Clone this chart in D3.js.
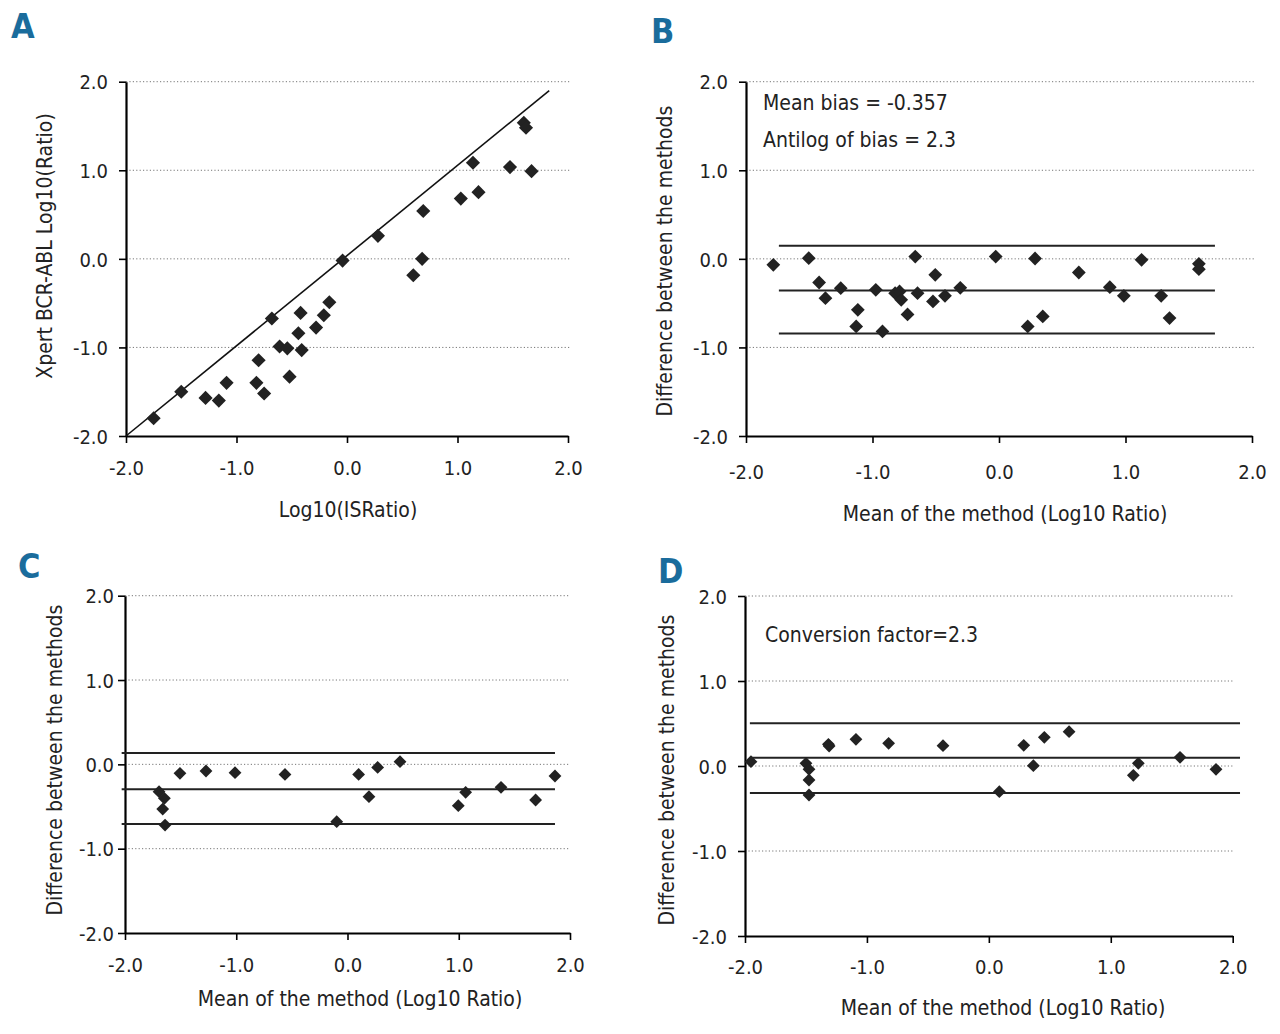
<!DOCTYPE html>
<html>
  <head>
    <meta charset="UTF-8" />
    <title>Xpert BCR-ABL vs IS ratio</title>
    <script src="https://d3js.org/d3.v7.min.js"></script>
    <style>
      body { margin: 0; background: #fff; }
      svg text { font-family: "Liberation Sans Narrow", "DejaVu Sans Condensed", "Roboto Condensed", sans-serif; fill: #222; }
    </style>
  </head>
  <body>
    <div id="chart"></div>
    <script>
      ///////////////////////data///////////////////////////////

      const ticks = [-2, -1, 0, 1, 2];
      const gridValues = [-1, 0, 1, 2];

      // A: [Log10(IS ratio), Xpert Log10(ratio)]
      const aPoints = [
        [-1.75, -1.8], [-1.5, -1.5], [-1.28, -1.57], [-1.16, -1.6], [-1.09, -1.4],
        [-0.82, -1.4], [-0.75, -1.52], [-0.8, -1.145], [-0.68, -0.674], [-0.61, -0.99],
        [-0.54, -1.01], [-0.52, -1.33], [-0.42, -0.61], [-0.44, -0.84], [-0.41, -1.03],
        [-0.28, -0.776], [-0.21, -0.637], [-0.16, -0.49], [-0.04, -0.02], [0.28, 0.26],
        [0.6, -0.185], [0.68, 0.0], [0.69, 0.54], [1.03, 0.68], [1.14, 1.085],
        [1.19, 0.753], [1.475, 1.036], [1.6, 1.537], [1.62, 1.48], [1.67, 0.99],
      ];
      const aIdentity = [[-2, -2], [1.83, 1.9]];

      // B: [mean, difference]
      const bPoints = [
        [-1.784, -0.068], [-1.504, 0.008], [-1.422, -0.267], [-1.372, -0.444], [-1.251, -0.331],
        [-1.116, -0.575], [-1.129, -0.763], [-0.974, -0.35], [-0.921, -0.82], [-0.821, -0.387],
        [-0.786, -0.368], [-0.773, -0.462], [-0.723, -0.628], [-0.662, 0.026], [-0.644, -0.387],
        [-0.522, -0.481], [-0.504, -0.18], [-0.427, -0.417], [-0.306, -0.327], [-0.026, 0.026],
        [0.227, -0.763], [0.285, 0.004], [0.346, -0.65], [0.631, -0.154], [0.876, -0.32],
        [0.987, -0.417], [1.127, -0.011], [1.282, -0.417], [1.348, -0.669], [1.58, -0.056],
        [1.58, -0.117],
      ];
      const bLimits = [0.147, -0.357, -0.842];
      const bLimitSpan = [-1.74, 1.707];

      const cPoints = [
        [-1.694, -0.324], [-1.646, -0.403], [-1.661, -0.53], [-1.64, -0.72], [-1.506, -0.107],
        [-1.272, -0.079], [-1.011, -0.099], [-0.562, -0.119], [-0.097, -0.68], [0.1, -0.119],
        [0.193, -0.383], [0.271, -0.036], [0.472, 0.032], [0.996, -0.49], [1.062, -0.332],
        [1.38, -0.273], [1.691, -0.423], [1.865, -0.138],
      ];
      const cLimits = [0.134, -0.296, -0.708];
      const cLimitSpan = [-2.03, 1.865];

      const dPoints = [
        [-1.951, 0.051], [-1.5, 0.031], [-1.475, -0.039], [-1.475, -0.165], [-1.475, -0.341],
        [-1.316, 0.255], [-1.31, 0.235], [-1.09, 0.314], [-0.822, 0.267], [-0.376, 0.239],
        [0.086, -0.302], [0.286, 0.243], [0.365, 0.004], [0.455, 0.337], [0.658, 0.404],
        [1.185, -0.11], [1.226, 0.031], [1.568, 0.102], [1.863, -0.039],
      ];
      const dLimits = [0.502, 0.098, -0.318];
      const dLimitSpan = [-1.96, 2.06];

      ///////////////////////chart///////////////////////////////

      const svg = d3.select("#chart").append("svg")
        .attr("width", 1280).attr("height", 1034);

      // plain hyphen for negatives, like the original figure
      const fmt = (d) => d.toFixed(1);

      function panel(o) {
        const x = d3.scaleLinear().domain([-2, 2]).range([o.left, o.right]);
        const y = d3.scaleLinear().domain([-2, 2]).range([o.bottom, o.top]);
        const g = svg.append("g");

        // dotted grid
        g.selectAll(".grid").data(gridValues).enter().append("line")
          .attr("x1", o.left).attr("x2", o.gridRight)
          .attr("y1", (d) => y(d)).attr("y2", (d) => y(d))
          .attr("stroke", "#777").attr("stroke-width", 1)
          .attr("stroke-dasharray", "1.2,2.2");

        // axes
        const ax = g.append("g").attr("transform", `translate(0,${o.bottom})`)
          .call(d3.axisBottom(x).tickValues(ticks).tickFormat(fmt).tickSize(7).tickSizeOuter(0));
        ax.select(".domain").attr("stroke-width", 2.2);
        ax.selectAll(".tick line").attr("stroke-width", 1.6);
        ax.selectAll(".tick text").attr("dy", 0).attr("y", o.xLabelDy)
          .style("font-size", "20px");

        const ay = g.append("g").attr("transform", `translate(${o.left},0)`)
          .call(d3.axisLeft(y).tickValues(ticks).tickFormat(fmt).tickSize(7).tickSizeOuter(0));
        ay.select(".domain").attr("stroke-width", 2.2);
        ay.selectAll(".tick line").attr("stroke-width", 1.6);
        ay.selectAll(".tick text").attr("x", -o.yLabelGap).attr("dy", "0.36em")
          .style("font-size", "20px");

        // reference lines
        if (o.identity) {
          g.append("path")
            .attr("d", d3.line().x((d) => x(d[0])).y((d) => y(d[1]))(o.identity))
            .attr("stroke", "#111").attr("stroke-width", 1.6).attr("fill", "none");
        }
        if (o.limits) {
          g.selectAll(".limit").data(o.limits).enter().append("line")
            .attr("x1", x(o.span[0])).attr("x2", x(o.span[1]))
            .attr("y1", (d) => y(d)).attr("y2", (d) => y(d))
            .attr("stroke", "#222").attr("stroke-width", 2);
        }

        // diamonds
        const sym = d3.symbol(d3.symbolSquare, o.markSize);
        g.selectAll(".pt").data(o.points).enter().append("path")
          .attr("d", sym)
          .attr("transform", (d) => `translate(${x(d[0])},${y(d[1])}) rotate(45)`)
          .attr("fill", "#222");

        // titles
        g.append("text").attr("x", o.xTitle[0]).attr("y", o.xTitle[1])
          .attr("text-anchor", "middle").style("font-size", "21px").text(o.xLabel);
        g.append("text")
          .attr("transform", `translate(${o.yTitle[0]},${o.yTitle[1]}) rotate(-90)`)
          .attr("text-anchor", "middle").attr("dy", "0.35em")
          .style("font-size", "21px").text(o.yLabel);

        (o.notes || []).forEach((n) => {
          g.append("text").attr("x", n[0]).attr("y", n[1])
            .style("font-size", "21px").text(n[2]);
        });

        g.append("text").attr("x", o.letter[0]).attr("y", o.letter[1])
          .style("font-size", "34px").style("font-weight", "bold")
          .style("fill", "#1a6c9c").text(o.letter[2]);
      }

      panel({
        left: 126, right: 568, top: 81.7, bottom: 436, gridRight: 570,
        xLabelDy: 39, yLabelGap: 18,
        points: aPoints, identity: aIdentity, markSize: 100,
        xLabel: "Log10(ISRatio)", xTitle: [348, 517],
        yLabel: "Xpert BCR-ABL Log10(Ratio)", yTitle: [45, 246],
        letter: [11, 38, "A"],
      });

      panel({
        left: 746, right: 1252, top: 81.7, bottom: 436, gridRight: 1256,
        xLabelDy: 43, yLabelGap: 18,
        points: bPoints, limits: bLimits, span: bLimitSpan, markSize: 95,
        xLabel: "Mean of the method (Log10 Ratio)", xTitle: [1005, 521],
        yLabel: "Difference between the methods", yTitle: [665, 261],
        notes: [[763, 110, "Mean bias = -0.357"], [763, 147, "Antilog of bias = 2.3"]],
        letter: [651, 43, "B"],
      });

      panel({
        left: 125, right: 570, top: 595.7, bottom: 933, gridRight: 570,
        xLabelDy: 39, yLabelGap: 11,
        points: cPoints, limits: cLimits, span: cLimitSpan, markSize: 82,
        xLabel: "Mean of the method (Log10 Ratio)", xTitle: [360, 1006],
        yLabel: "Difference between the methods", yTitle: [55, 760],
        letter: [18, 578, "C"],
      });

      panel({
        left: 745, right: 1232.7, top: 596, bottom: 936, gridRight: 1233,
        xLabelDy: 38, yLabelGap: 18,
        points: dPoints, limits: dLimits, span: dLimitSpan, markSize: 82,
        xLabel: "Mean of the method (Log10 Ratio)", xTitle: [1003, 1015],
        yLabel: "Difference between the methods", yTitle: [667, 770],
        notes: [[765, 642, "Conversion factor=2.3"]],
        letter: [658, 583, "D"],
      });
    </script>
  </body>
</html>
